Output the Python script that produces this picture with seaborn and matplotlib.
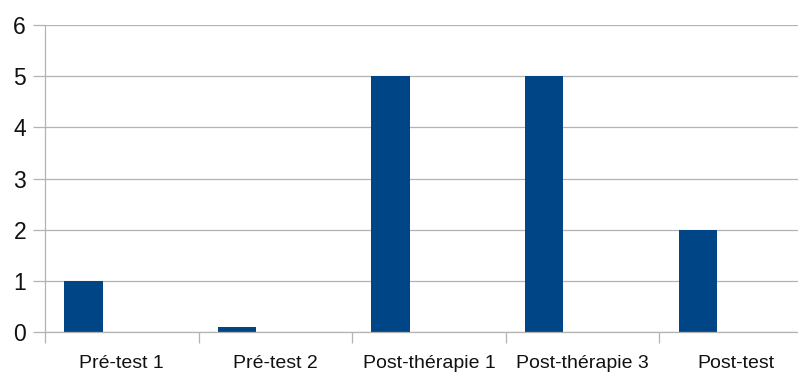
import matplotlib
matplotlib.use("Agg")
import matplotlib.pyplot as plt
import seaborn as sns
import pandas as pd

# Session labels and scores
categories = ["Pré-test 1", "Pré-test 2", "Post-thérapie 1", "Post-thérapie 3", "Post-test"]
series_1 = [1, 0.1, 5, 5, 2]
series_2 = [0, 0, 0, 0, 0]
series_3 = [0, 0, 0, 0, 0]
series_names = ["Série 1", "Série 2", "Série 3"]
y_ticks = [0, 1, 2, 3, 4, 5, 6]

rows = []
for name, vals in zip(series_names, [series_1, series_2, series_3]):
    for cat, v in zip(categories, vals):
        rows.append({"session": cat, "serie": name, "score": v})
df = pd.DataFrame(rows)

sns.set_theme(style="white")
plt.rcParams["font.family"] = ["Liberation Sans", "DejaVu Sans"]

fig = plt.figure(figsize=(7.98, 3.72), dpi=100)
ax = fig.add_axes([45 / 798, 1 - 332 / 372, 768 / 798, 307 / 372])

sns.barplot(
    data=df, x="session", y="score", hue="serie",
    order=categories, hue_order=series_names,
    palette=["#004586", "#ff420e", "#ffd320"],
    width=0.75, linewidth=0, saturation=1, legend=False, ax=ax,
)

grey = "#b3b3b3"
ax.set_xlim(-0.5, len(categories) - 0.5)
ax.set_ylim(0, 6)
ax.set_yticks(y_ticks)
ax.yaxis.grid(True, color=grey, linewidth=0.9)
ax.set_axisbelow(True)
ax.set_xlabel("")
ax.set_ylabel("")

for side in ["top", "right"]:
    ax.spines[side].set_visible(False)
for side in ["left", "bottom"]:
    ax.spines[side].set_color(grey)
    ax.spines[side].set_linewidth(0.9)

# category boundary ticks below the axis
ax.set_xticks([i - 0.5 for i in range(len(categories) + 1)], minor=True)
ax.tick_params(axis="x", which="minor", length=8, width=0.9, color=grey, bottom=True)
ax.tick_params(axis="x", which="major", length=0, pad=16.5, labelsize=14, labelcolor="#111111")
ax.tick_params(axis="y", which="major", length=8.6, width=0.9, color=grey, left=True,
               pad=5, labelsize=16.5, labelcolor="#111111")

fig.savefig("out.png", dpi=100)
